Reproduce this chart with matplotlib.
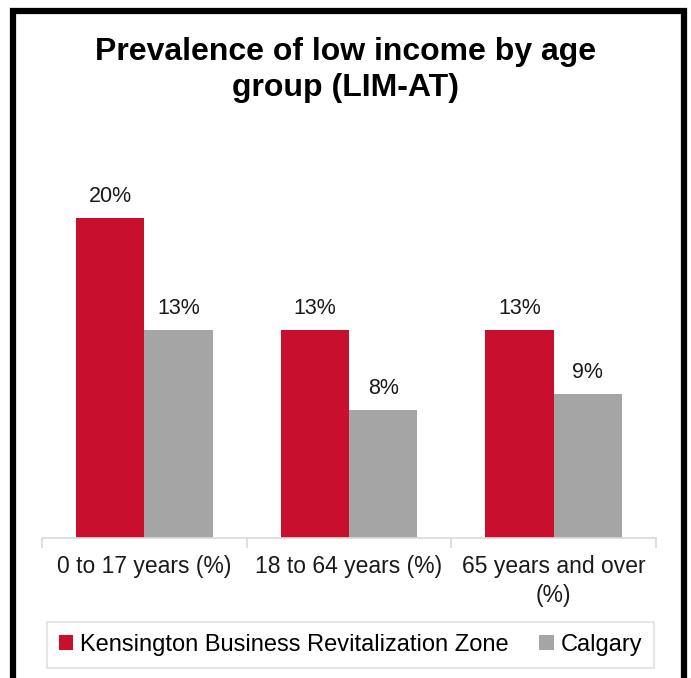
import matplotlib
matplotlib.use("Agg")
import matplotlib.pyplot as plt
from matplotlib.patches import Rectangle
import numpy as np

categories = ["0 to 17 years (%)", "18 to 64 years (%)", "65 years and over\n(%)"]
kensington = [20, 13, 13]
calgary = [13, 8, 9]
series_names = ["Kensington Business Revitalization Zone", "Calgary"]
title = "Prevalence of low income by age\ngroup (LIM-AT)"

RED = "#C8102E"
GRAY = "#A5A5A5"

plt.rcParams['font.family'] = ['Liberation Sans', 'DejaVu Sans']

W, H = 691, 678
fig = plt.figure(figsize=(W / 100, H / 100), dpi=100)

# outer frame
fig.patches.append(Rectangle((12.5 / W, -0.05), (684 - 12.5) / W, 1.05 - 11 / H,
                             transform=fig.transFigure, fill=False,
                             edgecolor="black", linewidth=4.5))

ax_left, ax_right = 42 / W, 656 / W
ax_bottom = (H - 538) / H
ax_top = (H - 138) / H
ax = fig.add_axes([ax_left, ax_bottom, ax_right - ax_left, ax_top - ax_bottom])

x = np.arange(len(categories))
w = 1 / 3
b1 = ax.bar(x - w / 2, kensington, w, color=RED, label=series_names[0])
b2 = ax.bar(x + w / 2, calgary, w, color=GRAY, label=series_names[1])

for bars, vals in ((b1, kensington), (b2, calgary)):
    for r, v in zip(bars, vals):
        ax.text(r.get_x() + r.get_width() / 2, v + 0.7, f"{v}%",
                ha="center", va="bottom", fontsize=15.5, color="#1a1a1a")

ax.set_xlim(-0.5, len(categories) - 0.5)
ax.set_ylim(0, 25)
for s in ("top", "right", "left"):
    ax.spines[s].set_visible(False)
ax.spines["bottom"].set_color("#D9D9D9")
ax.spines["bottom"].set_linewidth(1.2)
ax.set_yticks([])
ax.set_xticks(x)
ax.set_xticklabels(categories, fontsize=16.5, color="#1a1a1a", linespacing=1.35)
ax.tick_params(axis="x", which="major", length=0, pad=12)
ax.set_xticks(np.arange(-0.5, len(categories)), minor=True)
ax.tick_params(axis="x", which="minor", length=7, color="#D9D9D9", width=1.2)

fig.text(0.5, (H - 70) / H, title, ha="center", va="center",
         fontsize=23, fontweight="bold", linespacing=1.3)

leg = fig.legend(loc="center", bbox_to_anchor=(350.5 / W, (H - 645) / H),
                 ncol=2, fontsize=17, frameon=True, fancybox=False,
                 handlelength=0.6, handleheight=0.6, handletextpad=0.3,
                 columnspacing=1.3, borderpad=0.5, borderaxespad=0)
leg.get_frame().set_edgecolor("#D9D9D9")
leg.get_frame().set_linewidth(1.2)

fig.savefig("out.png", dpi=100)
